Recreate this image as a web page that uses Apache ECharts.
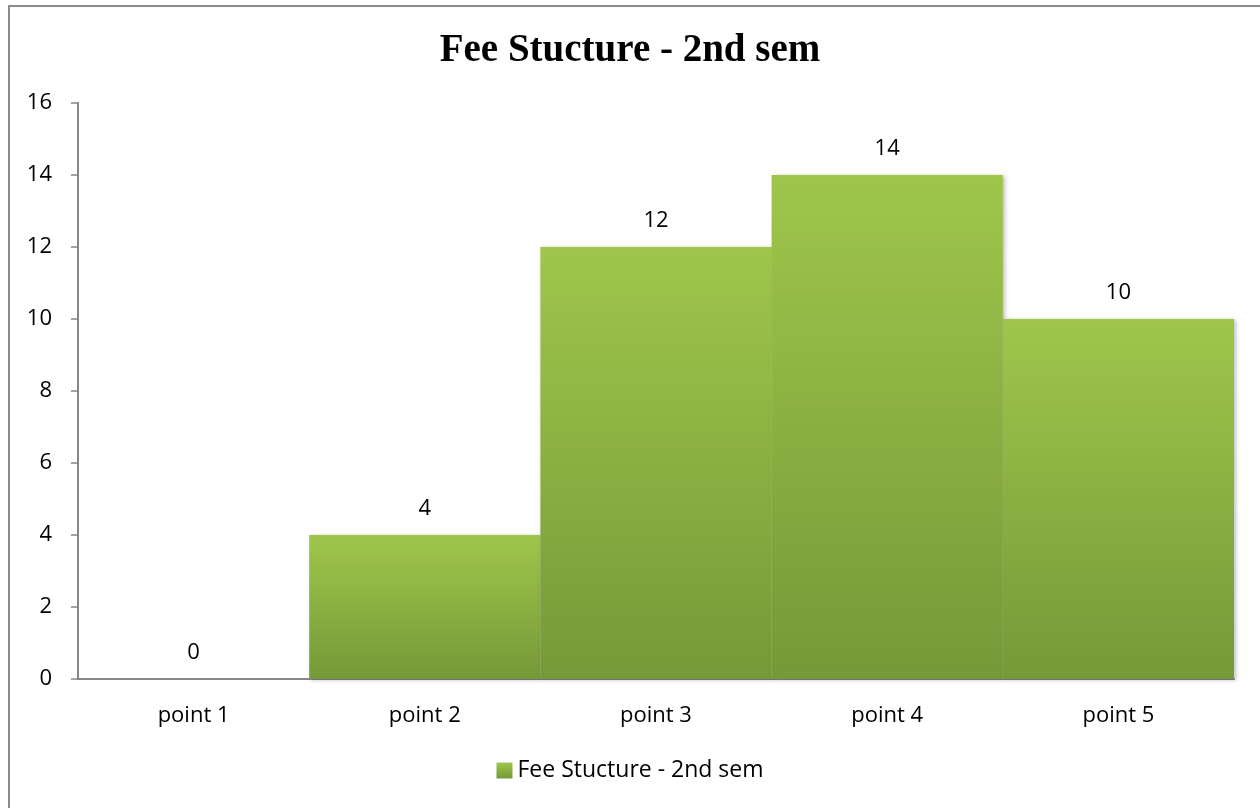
<!DOCTYPE html>
<html>
<head>
<meta charset="utf-8">
<script src="https://cdn.jsdelivr.net/npm/echarts@6/dist/echarts.min.js"></script>
<style>
html,body{margin:0;padding:0;background:#fff;}
#frame{position:absolute;left:8px;top:5px;width:1270px;height:820px;border:2px solid #8c8c8c;box-sizing:border-box;}
#chart{position:absolute;left:0;top:0;width:1260px;height:808px;}
</style>
</head>
<body>
<div id="frame"></div>
<div id="chart"></div>
<script>
const titleText = "Fee Stucture - 2nd sem";
const seriesName = "Fee Stucture - 2nd sem";
const categories = ["point 1", "point 2", "point 3", "point 4", "point 5"];
const values = [0, 4, 12, 14, 10];

const chart = echarts.init(document.getElementById('chart'), null, {renderer: 'canvas'});
const labelFont = '"Open Sans", "Noto Sans", sans-serif';
chart.setOption({
  animation: false,
  backgroundColor: 'transparent',
  title: {
    text: titleText,
    left: 'center',
    top: 26,
    textStyle: {fontFamily: '"Liberation Serif", serif', fontWeight: 'bold', fontSize: 39, color: '#000'}
  },
  legend: {
    bottom: 21,
    left: 'center',
    itemWidth: 16,
    itemHeight: 16,
    itemGap: 6,
    icon: 'rect',
    textStyle: {fontFamily: labelFont, fontSize: 23, color: '#000'},
    data: [seriesName]
  },
  grid: {left: 78, right: 26, top: 103, bottom: 129, containLabel: false},
  xAxis: {
    type: 'category',
    data: categories,
    axisLine: {lineStyle: {color: '#868686', width: 2}},
    axisTick: {show: false},
    axisLabel: {fontFamily: labelFont, fontSize: 22, color: '#000', margin: 26}
  },
  yAxis: {
    type: 'value',
    min: 0, max: 16, interval: 2,
    axisLine: {show: true, lineStyle: {color: '#868686', width: 2}},
    axisTick: {show: true, length: 7, lineStyle: {color: '#868686', width: 1.5}},
    splitLine: {show: false},
    axisLabel: {fontFamily: labelFont, fontSize: 22, color: '#000', margin: 26}
  },
  series: [{
    name: seriesName,
    type: 'bar',
    data: values,
    barWidth: '100%',
    barCategoryGap: '0%',
    itemStyle: {
      color: new echarts.graphic.LinearGradient(0, 0, 0, 1, [
        {offset: 0, color: '#9fc64b'},
        {offset: 1, color: '#759938'}
      ]),
      shadowColor: 'rgba(0,0,0,0.25)',
      shadowBlur: 4,
      shadowOffsetX: 2,
      shadowOffsetY: 1
    },
    label: {show: true, position: 'top', distance: 15, fontFamily: labelFont, fontSize: 22, color: '#000'}
  }]
});
</script>
</body>
</html>
